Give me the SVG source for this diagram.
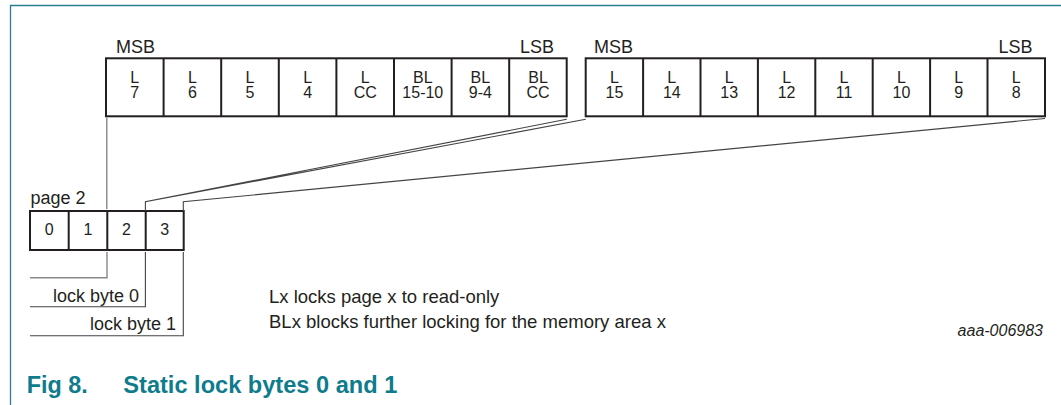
<svg xmlns="http://www.w3.org/2000/svg" width="1061" height="405" viewBox="0 0 1061 405">
<style>
text{font-family:"Liberation Sans",Arial,sans-serif;fill:#231f20}
.c{font-size:16px;text-anchor:middle}
.lbl{font-size:18px}
.note{font-size:18.5px}
.box{fill:#fff;stroke:#231f20;stroke-width:2}
.div{stroke:#231f20;stroke-width:2}
.ln{fill:none;stroke:#444;stroke-width:1.1}
.gl{fill:none;stroke:#888;stroke-width:1.4}
.cap{font-size:24px;font-weight:bold;fill:#0e7c8c}
</style>
<g id="frame"><path d="M10.5 405 V5.5 H1061" fill="none" stroke="#2a7f8f" stroke-width="1.3"/></g>
<g id="byte0">
<text class="lbl" x="116" y="53">MSB</text>
<text class="lbl" x="554" y="53" text-anchor="end">LSB</text>
<rect class="box" x="106" y="58.3" width="460.7" height="58"/>
<path class="div" d="M163.6 58.3V116.3M221.2 58.3V116.3M278.8 58.3V116.3M336.4 58.3V116.3M394 58.3V116.3M451.6 58.3V116.3M509.2 58.3V116.3"/>
<g class="c">
<text x="134.8" y="83.3">L</text><text x="134.8" y="98">7</text>
<text x="192.4" y="83.3">L</text><text x="192.4" y="98">6</text>
<text x="250" y="83.3">L</text><text x="250" y="98">5</text>
<text x="307.6" y="83.3">L</text><text x="307.6" y="98">4</text>
<text x="365.2" y="83.3">L</text><text x="365.2" y="98">CC</text>
<text x="422.8" y="83.3">BL</text><text x="422.8" y="98">15-10</text>
<text x="480.4" y="83.3">BL</text><text x="480.4" y="98">9-4</text>
<text x="538" y="83.3">BL</text><text x="538" y="98">CC</text>
</g>
</g>
<g id="byte1">
<text class="lbl" x="594" y="53">MSB</text>
<text class="lbl" x="1032.5" y="53" text-anchor="end">LSB</text>
<rect class="box" x="585.7" y="58.3" width="459.3" height="58"/>
<path class="div" d="M643.1 58.3V116.3M700.5 58.3V116.3M757.9 58.3V116.3M815.3 58.3V116.3M872.7 58.3V116.3M930.1 58.3V116.3M987.5 58.3V116.3"/>
<g class="c">
<text x="614.4" y="83.3">L</text><text x="614.4" y="98">15</text>
<text x="671.8" y="83.3">L</text><text x="671.8" y="98">14</text>
<text x="729.2" y="83.3">L</text><text x="729.2" y="98">13</text>
<text x="786.6" y="83.3">L</text><text x="786.6" y="98">12</text>
<text x="844" y="83.3">L</text><text x="844" y="98">11</text>
<text x="901.4" y="83.3">L</text><text x="901.4" y="98">10</text>
<text x="958.8" y="83.3">L</text><text x="958.8" y="98">9</text>
<text x="1016.2" y="83.3">L</text><text x="1016.2" y="98">8</text>
</g>
</g>
<g id="page2">
<text class="lbl" x="30.5" y="204">page 2</text>
<rect class="box" x="30" y="211" width="153.7" height="39"/>
<path class="div" d="M68.7 211V250M107.3 211V250M145.7 211V250"/>
<g class="c">
<text x="49.3" y="234.5">0</text>
<text x="88" y="234.5">1</text>
<text x="126.5" y="234.5">2</text>
<text x="164.7" y="234.5">3</text>
</g>
</g>
<g id="connectors">
<path class="gl" d="M106.8 117.5V209"/>
<path class="gl" d="M107 252V277.7H30"/>
<path class="ln" d="M145.4 252V306.7H30"/>
<path class="ln" d="M183.3 252V335.7H30"/>
<path class="ln" d="M145.4 211V201.7L566.7 119.3M145.4 201.7L585.7 119.3"/>
<path class="ln" d="M183.3 211V201.7L1045 118.5"/>
</g>
<g id="labels">
<text class="lbl" x="139" y="302" text-anchor="end">lock byte 0</text>
<text class="lbl" x="176" y="329.5" text-anchor="end">lock byte 1</text>
<text class="note" x="269" y="303">Lx locks page x to read-only</text>
<text class="note" x="269" y="328">BLx blocks further locking for the memory area x</text>
<text x="1043" y="335.7" text-anchor="end" font-size="16" font-style="italic" fill="#333">aaa-006983</text>
</g>
<g id="caption">
<text class="cap" x="26.7" y="392.7" textLength="61" lengthAdjust="spacingAndGlyphs">Fig 8.</text>
<text class="cap" x="123.3" y="392.7" textLength="274" lengthAdjust="spacingAndGlyphs">Static lock bytes 0 and 1</text>
</g>
</svg>
